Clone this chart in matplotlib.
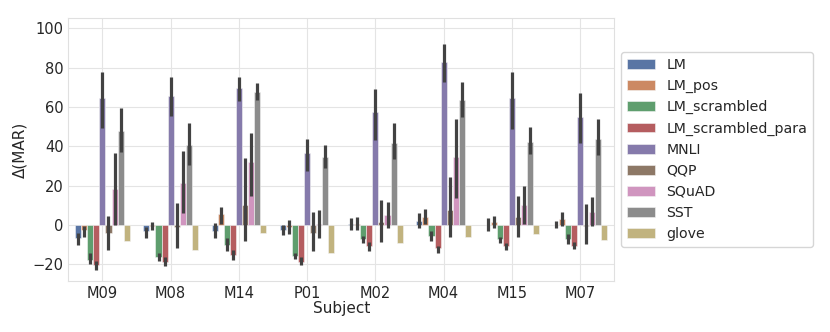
import numpy as np
import matplotlib
matplotlib.use("Agg")
import matplotlib.pyplot as plt
import seaborn as sns

subjects = ["M09", "M08", "M14", "P01", "M02", "M04", "M15", "M07"]
models = ["LM", "LM_pos", "LM_scrambled", "LM_scrambled_para", "MNLI",
          "QQP", "SQuAD", "SST", "glove"]

# mean values per model across subjects
LM = [-6.8, -3.0, -3.0, -2.5, 0.5, 2.0, 0.2, 0.2]
LM_pos = [-2.5, -0.5, 5.6, -1.0, 0.5, 3.9, 1.4, 2.9]
LM_scrambled = [-17.8, -16.1, -10.2, -15.8, -7.1, -5.6, -7.3, -7.3]
LM_scrambled_para = [-20.3, -18.6, -15.3, -18.6, -10.7, -11.9, -10.7, -10.5]
MNLI = [64.7, 65.7, 69.5, 36.8, 57.6, 82.7, 64.4, 54.7]
QQP = [-4.2, -1.2, 10.0, -3.9, 1.4, 7.6, 3.9, -0.5]
SQuAD = [18.3, 21.5, 32.0, 0.5, 5.1, 34.7, 10.2, 6.8]
SST = [47.8, 40.7, 67.8, 34.7, 41.9, 63.5, 42.4, 43.6]
glove = [-8.0, -12.7, -3.9, -14.4, -9.3, -5.9, -4.7, -7.6]

# confidence intervals (low, high)
LM_lo = [-10.2, -6.4, -6.8, -5.1, -2.5, -1.7, -2.9, -1.7]
LM_hi = [-4.2, -0.8, 1.2, 0.0, 3.4, 5.9, 3.7, 2.0]
LM_pos_lo = [-5.9, -2.5, 0.5, -4.7, -2.5, 0.5, -1.7, -0.5]
LM_pos_hi = [-0.5, 1.7, 9.3, 2.5, 3.9, 8.0, 4.6, 6.4]
LM_scrambled_lo = [-20.0, -18.1, -13.0, -17.5, -9.3, -8.1, -9.0, -9.8]
LM_scrambled_hi = [-14.4, -14.4, -6.8, -14.4, -5.6, -2.9, -5.9, -4.7]
LM_scrambled_para_lo = [-22.9, -20.8, -17.8, -20.3, -13.0, -14.1, -12.7, -12.4]
LM_scrambled_para_hi = [-18.1, -16.4, -12.7, -16.4, -8.5, -10.7, -9.0, -8.5]
MNLI_lo = [49.2, 55.6, 63.0, 27.6, 43.2, 72.9, 48.6, 41.5]
MNLI_hi = [78.0, 75.4, 75.4, 43.6, 69.0, 91.9, 78.0, 67.0]
QQP_lo = [-12.7, -11.5, -8.1, -13.0, -8.5, -6.3, -5.9, -9.7]
QQP_hi = [4.6, 11.0, 34.2, 6.8, 12.7, 24.6, 14.7, 10.7]
SQuAD_lo = [0.0, 5.9, 14.7, -6.6, -1.7, 13.6, 0.5, -0.5]
SQuAD_hi = [36.8, 37.8, 46.6, 7.8, 11.8, 54.0, 20.0, 14.1]
SST_lo = [37.0, 30.5, 63.5, 28.8, 33.4, 55.1, 36.1, 35.6]
SST_hi = [59.3, 51.7, 72.0, 40.7, 52.0, 72.9, 49.7, 53.7]

values = [LM, LM_pos, LM_scrambled, LM_scrambled_para, MNLI, QQP, SQuAD, SST, glove]
lows = [LM_lo, LM_pos_lo, LM_scrambled_lo, LM_scrambled_para_lo, MNLI_lo, QQP_lo,
        SQuAD_lo, SST_lo, None]
highs = [LM_hi, LM_pos_hi, LM_scrambled_hi, LM_scrambled_para_hi, MNLI_hi, QQP_hi,
         SQuAD_hi, SST_hi, None]

sns.set_style("whitegrid", {"grid.color": "#e4e4e4", "axes.edgecolor": "#e0e0e0"})
plt.rcParams["font.family"] = ["DejaVu Sans"]

palette = [sns.desaturate(c, 0.75) for c in sns.color_palette("deep", 9)]

fig = plt.figure(figsize=(8.3, 3.32), dpi=100)
ax = fig.add_axes([0.0823, 0.1536, 0.740 - 0.0823, 0.9458 - 0.1536])

n = len(models)
group_w = 0.8
w = group_w / n
x = np.arange(len(subjects))
for i, (m, vals) in enumerate(zip(models, values)):
    xpos = x - group_w / 2 + w * (i + 0.5)
    ax.bar(xpos, vals, width=w, color=palette[i], label=m,
           edgecolor="#f4f4f4", linewidth=0.4)
    if lows[i] is not None:
        ax.vlines(xpos, lows[i], highs[i], color=".26", linewidth=2.3, zorder=3)

ax.set_xlim(-0.5, len(subjects) - 0.5)
ax.set_ylim(-28.5, 105.2)
ax.set_yticks([-20, 0, 20, 40, 60, 80, 100])
ax.set_xticks(x)
ax.set_xticklabels(subjects)
ax.tick_params(axis="both", length=0, pad=3.5, labelsize=10.5, colors=".15")
ax.set_xlabel("Subject", fontsize=11, labelpad=0, color=".15")
ax.set_ylabel("Δ(MAR)", fontsize=11, color=".15")
leg = ax.legend(loc="center left", bbox_to_anchor=(1.0, 0.5), fontsize=10.2)
for t in leg.get_texts():
    t.set_color(".15")

fig.savefig("out.png", dpi=100)
